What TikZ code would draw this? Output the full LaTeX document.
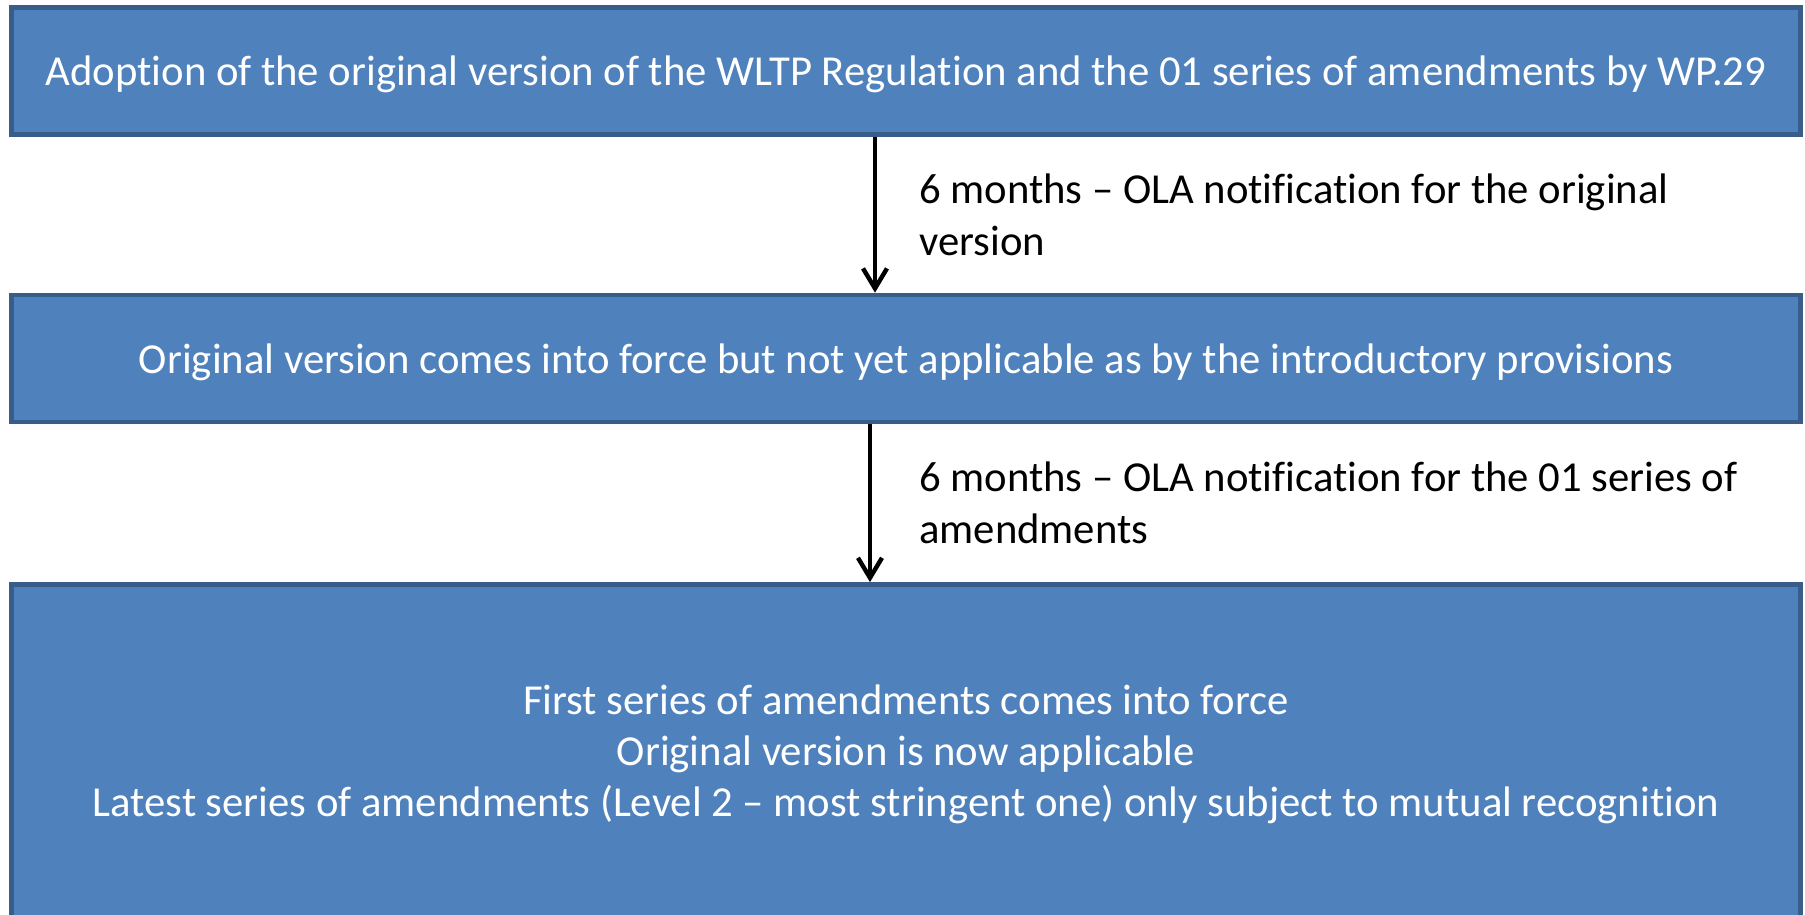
\documentclass[tikz,border=0pt]{standalone}
\usepackage{fontspec}
\setmainfont{Carlito}[RawFeature={-liga;-clig;-calt;-dlig}]
\usetikzlibrary{arrows.meta,positioning}
\definecolor{stagefill}{HTML}{4F81BD}
\definecolor{stageedge}{HTML}{385D8A}

\begin{document}
\begin{tikzpicture}[x=0.5pt,y=-0.5pt,
    stage/.style={draw=stageedge,fill=stagefill,line width=2.2pt,
      text=white,align=center,inner sep=0pt,text depth=0pt,
      minimum width=894.5pt,minimum height=63.5pt,
      font=\fontsize{21.35pt}{25.6pt}\selectfont},
    pass/.style={line width=2.2pt,
      -{Straight Barb[length=10pt,width=12pt,line width=2.2pt]}},
    note/.style={inner sep=0pt,align=left,
      font=\fontsize{21.35pt}{26pt}\selectfont}]
  \useasboundingbox (0,0) rectangle (1805,915);
  \clip (0,0) rectangle (1805,915);

  % the three stages
  \node[stage] (adopt) at (906,71)
    {Adoption of the original version of the WLTP Regulation and the 01 series of amendments by WP.29};
  \node[stage,below=78pt of adopt] (force)
    {Original version comes into force but not yet applicable as by the introductory provisions};
  \node[stage,below=79pt of force,minimum height=166.5pt] (apply)
    {First series of amendments comes into force\\
     Original version is now applicable\\
     Latest series of amendments (Level 2 -- most stringent one) only subject to mutual recognition};

  % transitions
  \draw[pass] ([xshift=-15.5pt]adopt.south) --
    node[note,right=21pt] {6 months -- OLA notification for the original\\version}
    ([xshift=-15.5pt]force.north);
  \draw[pass] ([xshift=-18pt]force.south) --
    node[note,right=23.5pt] {6 months -- OLA notification for the 01 series of\\amendments}
    ([xshift=-18pt]apply.north);
\end{tikzpicture}
\end{document}
